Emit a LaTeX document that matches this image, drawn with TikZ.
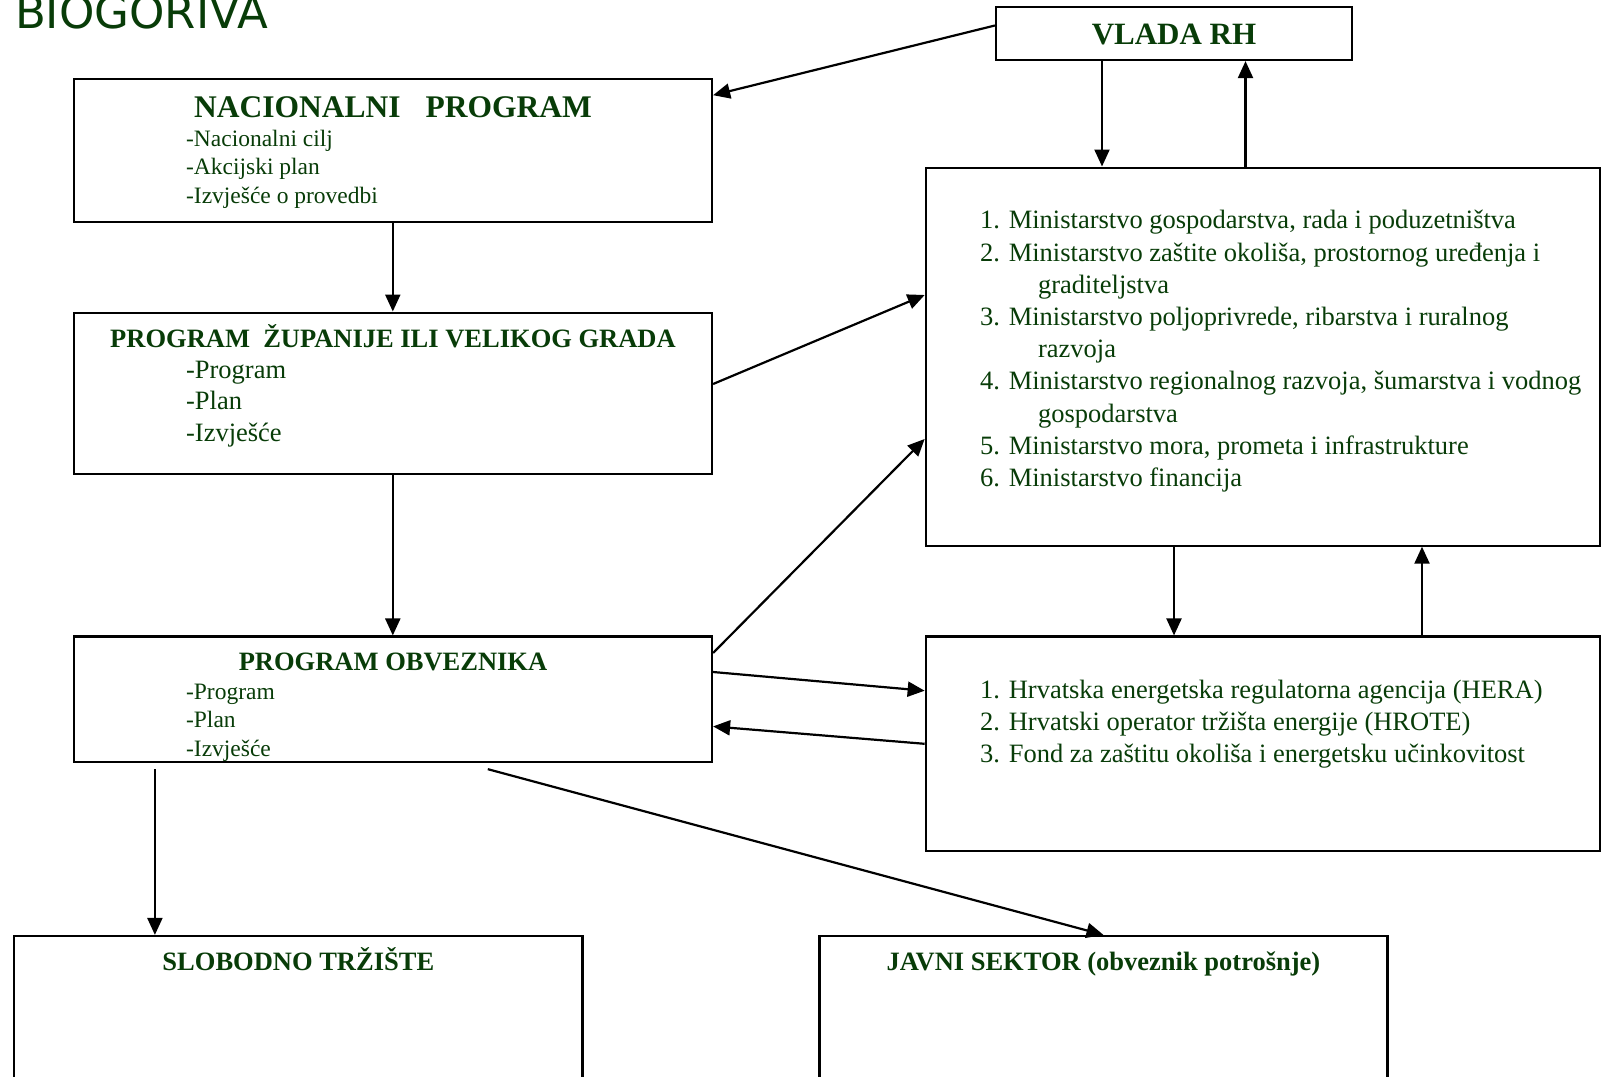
\documentclass[tikz,border=0pt]{standalone}
\usepackage{fontspec}
\setmainfont{Liberation Serif}
\newfontfamily\biofont{DejaVu Sans}
\usetikzlibrary{arrows.meta}
\definecolor{dkgreen}{RGB}{8,60,8}

\begin{document}
\begin{tikzpicture}[x=1pt,y=-1pt,line width=2.2pt,
                    arr/.style={-{Triangle[length=17pt,width=15pt]}},
                    box/.style={draw,rectangle,inner sep=0pt,line width=2.2pt},
                    txt/.style={text=dkgreen,inner sep=0pt,anchor=base west,font=\fontsize{26.5}{30}\selectfont},
                    small/.style={txt,font=\fontsize{23.5}{28}\selectfont},
                    hdr/.style={text=dkgreen,inner sep=0pt,anchor=base,font=\bfseries\fontsize{26.5}{30}\selectfont}]

  \clip (0,0) rectangle (1602,1076);

  \node[text=dkgreen,inner sep=0pt,anchor=base west,font=\biofont\fontsize{45}{50}\selectfont] (title) at (14,28) {BIOGORIVA};

  % boxes
  \node[box,minimum width=356pt,minimum height=53pt] (vlada) at (1174,33.5) {};
  \node[box,minimum width=638.4pt,minimum height=143pt] (nacional) at (392.8,150.2) {};
  \node[box,minimum width=638.4pt,minimum height=161.4pt] (zupanija) at (392.8,393.3) {};
  \node[box,minimum width=638.4pt,minimum height=125.5pt] (obveznik) at (392.8,699.3) {};
  \node[box,minimum width=674.3pt,minimum height=378pt] (minist) at (1262.9,356.6) {};
  \node[box,minimum width=674.3pt,minimum height=214.5pt] (agencije) at (1262.9,743.8) {};
  \node[box,minimum width=568.1pt,minimum height=200pt] (slobodno) at (298.35,1036) {};
  \node[box,minimum width=568.1pt,minimum height=200pt] (javni) at (1103.45,1036) {};

  % texts
  \node[hdr,font=\bfseries\fontsize{31}{36}\selectfont] (vladaH) at (1174,44) {VLADA RH};

  \node[hdr,font=\bfseries\fontsize{31.5}{36}\selectfont] (nacH) at (393,117.5) {NACIONALNI\hspace{0.8em}PROGRAM};
  \node[small] (nac1) at (185,146) {-Nacionalni cilj};
  \node[small] (nac2) at (185,174.7) {-Akcijski plan};
  \node[small] (nac3) at (185,203.3) {-Izvješće o provedbi};

  \node[hdr] (zupH) at (393,347.4) {PROGRAM\hspace{0.5em}ŽUPANIJE ILI VELIKOG GRADA};
  \node[txt] (zup1) at (185,378) {-Program};
  \node[txt] (zup2) at (185,409.7) {-Plan};
  \node[txt] (zup3) at (185,441.4) {-Izvješće};

  \node[hdr] (obvH) at (393,670) {PROGRAM OBVEZNIKA};
  \node[small] (obv1) at (185,699) {-Program};
  \node[small] (obv2) at (185,727.4) {-Plan};
  \node[small] (obv3) at (185,756) {-Izvješće};

  \node[txt] (min1) at (979,228.9) {1. Ministarstvo gospodarstva, rada i poduzetništva};
  \node[txt] (min2) at (979,261.1) {2. Ministarstvo zaštite okoliša, prostornog uređenja i};
  \node[txt] (min2b) at (1037,293.3) {graditeljstva};
  \node[txt] (min3) at (979,325.5) {3. Ministarstvo poljoprivrede, ribarstva i ruralnog};
  \node[txt] (min3b) at (1037,357.7) {razvoja};
  \node[txt] (min4) at (979,389.9) {4. Ministarstvo regionalnog razvoja, šumarstva i vodnog};
  \node[txt] (min4b) at (1037,422.1) {gospodarstva};
  \node[txt] (min5) at (979,454.3) {5. Ministarstvo mora, prometa i infrastrukture};
  \node[txt] (min6) at (979,486.5) {6. Ministarstvo financija};

  \node[txt] (ag1) at (979,698.8) {1. Hrvatska energetska regulatorna agencija (HERA)};
  \node[txt] (ag2) at (979,730.5) {2. Hrvatski operator tržišta energije (HROTE)};
  \node[txt] (ag3) at (979,762.2) {3. Fond za zaštitu okoliša i energetsku učinkovitost};

  \node[hdr] (slobH) at (298.35,970.6) {SLOBODNO TRŽIŠTE};
  \node[hdr] (javH) at (1103.45,970.6) {JAVNI SEKTOR (obveznik potrošnje)};

  % connectors
  \draw[arr] ([yshift=8pt]vlada.west) -- ([yshift=55pt]nacional.east);
  \draw[arr] ([xshift=-72pt]vlada.south) -- ([xshift=-72pt]vlada.south |- minist.north);
  \draw[arr] ([xshift=71.5pt]vlada.south |- minist.north) -- ([xshift=71.5pt]vlada.south);
  \draw[arr] (nacional.south) -- (zupanija.north);
  \draw[arr] (zupanija.south) -- (obveznik.north);
  \draw[arr] ([yshift=9.3pt]zupanija.east) -- ([yshift=61.6pt]minist.west);
  \draw[arr] ([yshift=-17.5pt]obveznik.north east) -- ([yshift=-82.4pt]minist.west);
  \draw[arr] ([yshift=27.3pt]obveznik.east) -- ([yshift=53.1pt]agencije.west);
  \draw[arr] (agencije.west) -- ([yshift=-27.1pt]obveznik.east);
  \draw[arr] ([xshift=-88.9pt]minist.south) -- ([xshift=-88.9pt]minist.south |- agencije.north);
  \draw[arr] ([xshift=159.1pt]minist.south |- agencije.north) -- ([xshift=159.1pt]minist.south);
  \draw[arr] ([xshift=82.4pt,yshift=-6pt]obveznik.south west) -- ([xshift=82.4pt]obveznik.south west |- slobodno.north);
  \draw[arr] ([xshift=95pt,yshift=-6pt]obveznik.south) -- (javni.north);
\end{tikzpicture}
\end{document}
